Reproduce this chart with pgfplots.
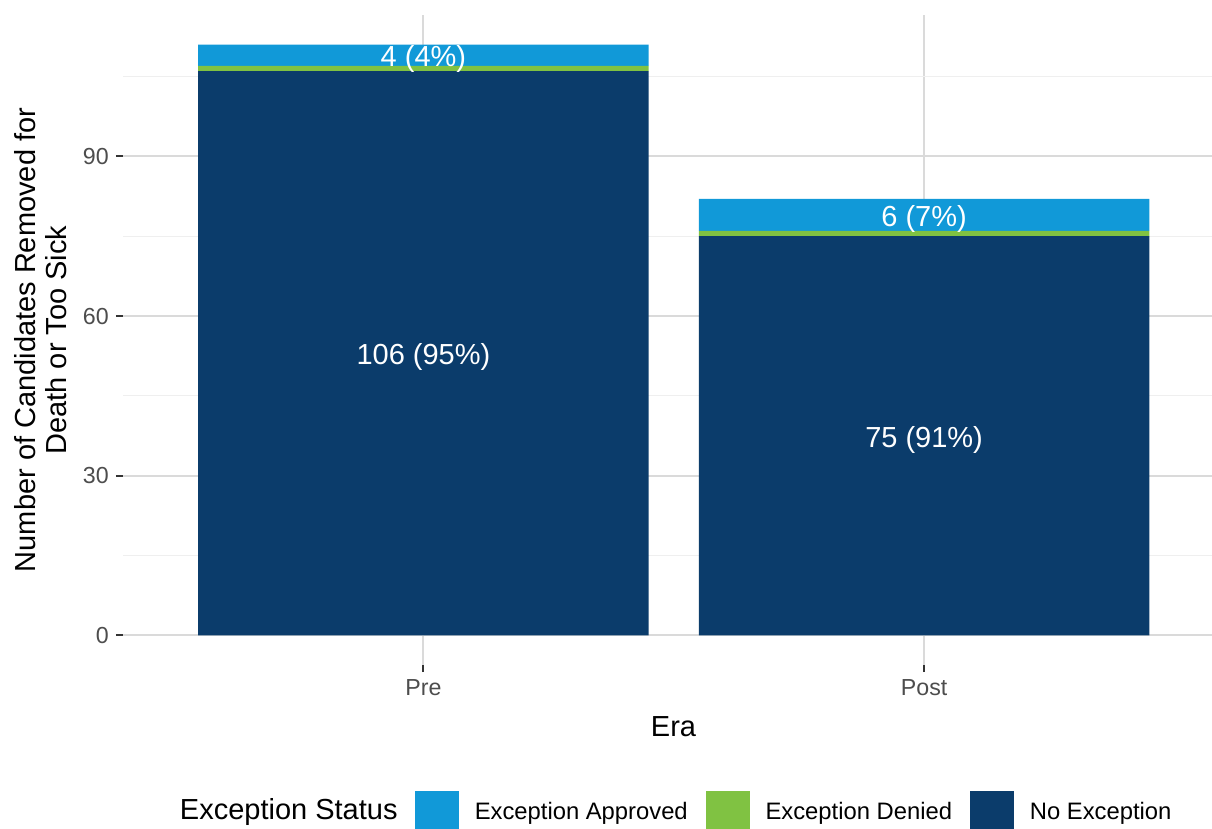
\documentclass[border=0pt]{standalone}
\usepackage{fontspec}
\setmainfont{Liberation Sans}
\usepackage{pgfplots}
\pgfplotsset{compat=1.18}
\definecolor{approved}{HTML}{1199D8}
\definecolor{denied}{HTML}{80C242}
\definecolor{noexc}{HTML}{0B3C6B}
\definecolor{gridmajor}{HTML}{DADADA}
\definecolor{gridminor}{HTML}{EFEFEF}
\definecolor{ticklab}{HTML}{4D4D4D}
\definecolor{tickc}{HTML}{333333}
\begin{document}
\begin{tikzpicture}
\useasboundingbox (-61.5pt,-82pt) rectangle (544.5pt,332.5pt);
\begin{axis}[
  at={(0pt,0pt)}, anchor=south west,
  scale only axis, width=544.5pt, height=325pt,
  xmin=0.4, xmax=2.575, ymin=-5.55, ymax=116.55,
  enlargelimits=false,
  ybar stacked, bar width=0.9,
  axis line style={draw=none},
  xtick={1,2}, xticklabels={Pre,Post},
  ytick={0,30,60,90}, minor ytick={15,45,75,105},
  xmajorgrids, ymajorgrids, yminorgrids,
  major grid style={color=gridmajor, line width=1pt},
  minor grid style={color=gridminor, line width=0.5pt},
  tick align=outside, major tick length=3.6pt, minor tick length=0pt,
  major tick style={color=tickc, line width=1pt},
  xtick pos=bottom, ytick pos=left,
  /pgf/number format/assume math mode=true,
  tick label style={color=ticklab, font=\fontsize{11.6}{13}\selectfont},
  xlabel={Era},
  xlabel style={at={(axis description cs:0.5055,0)}, yshift=-31pt, anchor=center, font=\fontsize{14.5}{17}\selectfont},
  ylabel={Number of Candidates Removed for\\Death or Too Sick},
  ylabel style={align=center, at={(axis description cs:-0.0753,0.5)}, anchor=center, font=\fontsize{14.5}{15.5}\selectfont},
  legend columns=3,
  legend style={at={(axis description cs:0.2681,-0.2269)}, anchor=west, draw=none, fill=none, inner sep=0pt, outer sep=0pt,
    font=\fontsize{11.9}{13}\selectfont, nodes={inner sep=0pt},
    /tikz/every odd column/.append style={column sep=8pt},
    /tikz/every even column/.append style={column sep=9pt}},
]
\addplot[fill=noexc, draw=none, forget plot] coordinates {(1,106) (2,75)};
\addplot[fill=denied, draw=none, forget plot] coordinates {(1,1) (2,1)};
\addplot[fill=approved, draw=none, forget plot] coordinates {(1,4) (2,6)};
\addlegendimage{legend image code/.code={\fill[approved] (0pt,-10.75pt) rectangle (21.5pt,10.75pt);}}
\addlegendentry{Exception Approved}
\addlegendimage{legend image code/.code={\fill[denied] (0pt,-10.75pt) rectangle (21.5pt,10.75pt);}}
\addlegendentry{Exception Denied}
\addlegendimage{legend image code/.code={\fill[noexc] (0pt,-10.75pt) rectangle (21.5pt,10.75pt);}}
\addlegendentry{No Exception}
\coordinate (l1) at (axis cs:1,53);
\coordinate (l2) at (axis cs:1,109);
\coordinate (l3) at (axis cs:2,37.5);
\coordinate (l4) at (axis cs:2,79);
\coordinate (lt) at (axis description cs:0.2525,-0.2269);
\end{axis}
\begin{scope}[every node/.style={white, yshift=-2pt, font=\fontsize{14.5}{17}\selectfont}]
\node at (l1) {106 (95\%)};
\node at (l2) {4 (4\%)};
\node at (l3) {75 (91\%)};
\node at (l4) {6 (7\%)};
\end{scope}
\node[anchor=east, inner sep=0pt, font=\fontsize{14.5}{17}\selectfont] at (lt) {Exception Status};
\end{tikzpicture}
\end{document}
